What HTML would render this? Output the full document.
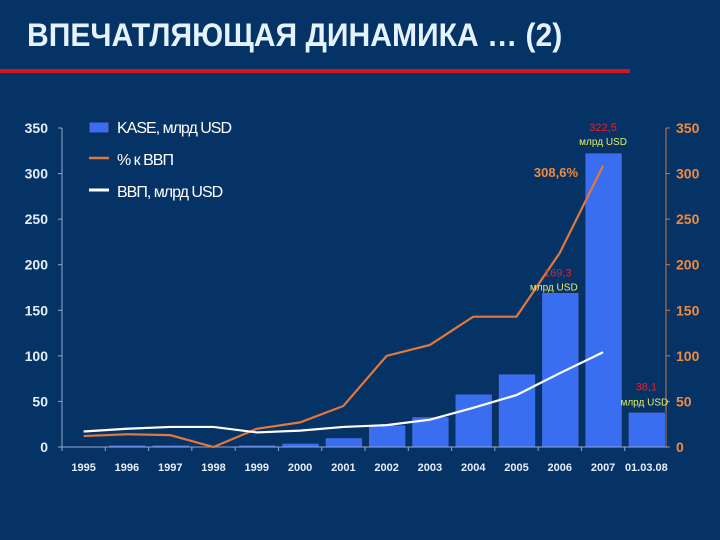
<!DOCTYPE html>
<html><head><meta charset="utf-8"><style>
body{margin:0;background:#063366;}
#wrap{position:relative;width:720px;height:540px;background:#063366;overflow:hidden;font-family:"Liberation Sans",sans-serif;}
#title{position:absolute;left:27px;top:17px;color:#e4f3ff;font-size:32px;font-weight:bold;letter-spacing:0px;transform:scaleX(0.94);transform-origin:left top;white-space:nowrap;}
#rule{position:absolute;left:0;top:69px;width:630px;height:4px;background:#d8141c;}
</style></head><body>
<div id="wrap">
<div id="title">ВПЕЧАТЛЯЮЩАЯ ДИНАМИКА … (2)</div>
<div id="rule"></div>
<svg id="chart" width="720" height="540" style="position:absolute;left:0;top:0"></svg>
</div>
<script>
const categories=["1995","1996","1997","1998","1999","2000","2001","2002","2003","2004","2005","2006","2007","01.03.08"];
const kaseValues=[0,2,2,0.5,2,4,10,24,33,58,80,169.3,322.5,38.1];
const pctGdpValues=[12,14,13,0,20,27,45,100,112,143,143,213,308.6];
const gdpValues=[17,20,22,22,16,18,22,24,30,43,57,81,104];
const yTicks=[0,50,100,150,200,250,300,350];
const ns="http://www.w3.org/2000/svg";
const svg=document.getElementById('chart');
const X0=62,X1=668,Y0=447,Y350=128;
const bw=(X1-X0)/categories.length;
function x(i){return X0+bw*(i+0.5);}
function y(v){return Y0-(Y0-Y350)*v/350;}
function mk(t,a,p){const e=document.createElementNS(ns,t);for(const k in a)e.setAttribute(k,a[k]);(p||svg).appendChild(e);return e;}
function txt(s,a){const e=mk('text',a);e.textContent=s;return e;}
const la=mk('line',{x1:X0,y1:Y350,x2:X0,y2:Y0,stroke:'#90a8d0','stroke-width':1});

const ra=mk('line',{x1:666,y1:Y350,x2:666,y2:Y0,stroke:'#c87a48','stroke-width':1});

yTicks.forEach(v=>{
 mk('line',{x1:X0-4,x2:X0,y1:y(v),y2:y(v),stroke:'#90a8d0'});
 mk('line',{x1:666,x2:670,y1:y(v),y2:y(v),stroke:'#c87a48'});
 const l=txt(String(v),{x:48,y:y(v)+5,'text-anchor':'end',fill:'#e4eefa','font-size':14,'font-weight':'bold'});
 
 const r=txt(String(v),{x:676,y:y(v)+5,fill:'#f08a3c','font-size':14,'font-weight':'bold'});
 
});
kaseValues.forEach((v,i)=>{
 const b=mk('rect',{x:x(i)-18,y:y(v),width:37,height:Y0-y(v),fill:'#3a6ef0',stroke:'#1a2a50','stroke-width':0.6});
 
});
const xa=mk('line',{x1:X0,y1:Y0,x2:X1,y2:Y0,stroke:'#90a8d0'});

categories.forEach((c,i)=>{
 mk('line',{x1:X0+bw*i,x2:X0+bw*i,y1:Y0,y2:Y0+4,stroke:'#90a8d0'});
 const t=txt(c,{x:x(i),y:471,'text-anchor':'middle',fill:'#e4eefa','font-size':11,'font-weight':'bold'});
 
});
function line(vals,col,name){
 const p=mk('polyline',{points:vals.map((v,i)=>x(i)+','+y(v)).join(' '),fill:'none',stroke:col,'stroke-width':2.2});
 
}
line(pctGdpValues,'#e2783a','pct-gdp-line');
line(gdpValues,'#ffffff','gdp-line');
function ann(s,xx,yy,col,sz,n){const t=txt(s,{x:xx,y:yy,'text-anchor':'middle',fill:col,'font-size':sz});}
ann('322,5',x(12),y(kaseValues[12])-22,'#e8202c',11,'label-2007-value');
ann('млрд USD',x(12),y(kaseValues[12])-8,'#e8f060',10,'label-2007-unit');
ann('169,3',x(11)-2,y(kaseValues[11])-16,'#e8202c',11,'label-2006-value');
ann('млрд USD',x(11)-6,y(kaseValues[11])-2,'#e8f060',10,'label-2006-unit');
ann('38,1',x(13),y(kaseValues[13])-22,'#e8202c',11,'label-0308-value');
ann('млрд USD',x(13)-2,y(kaseValues[13])-7,'#e8f060',10,'label-0308-unit');
const pl=txt('308,6%',{x:578,y:177,'text-anchor':'end',fill:'#f08a3c','font-size':13,'font-weight':'bold'});

const lg=mk('g',{});
mk('rect',{x:89,y:122,width:20,height:11,fill:'#3a6ef0',stroke:'#1a2a50'},lg);
txt('KASE, млрд USD',{x:117,y:133,fill:'#ffffff','font-size':16,'letter-spacing':'-1'});
mk('line',{x1:89,x2:109,y1:158,y2:158,stroke:'#e2783a','stroke-width':2.5},lg);
txt('% к ВВП',{x:117,y:165,fill:'#ffffff','font-size':16,'letter-spacing':'-1'});
mk('line',{x1:89,x2:109,y1:190,y2:190,stroke:'#ffffff','stroke-width':3},lg);
txt('ВВП, млрд USD',{x:117,y:197,fill:'#ffffff','font-size':16,'letter-spacing':'-1'});
</script>
</body></html>
